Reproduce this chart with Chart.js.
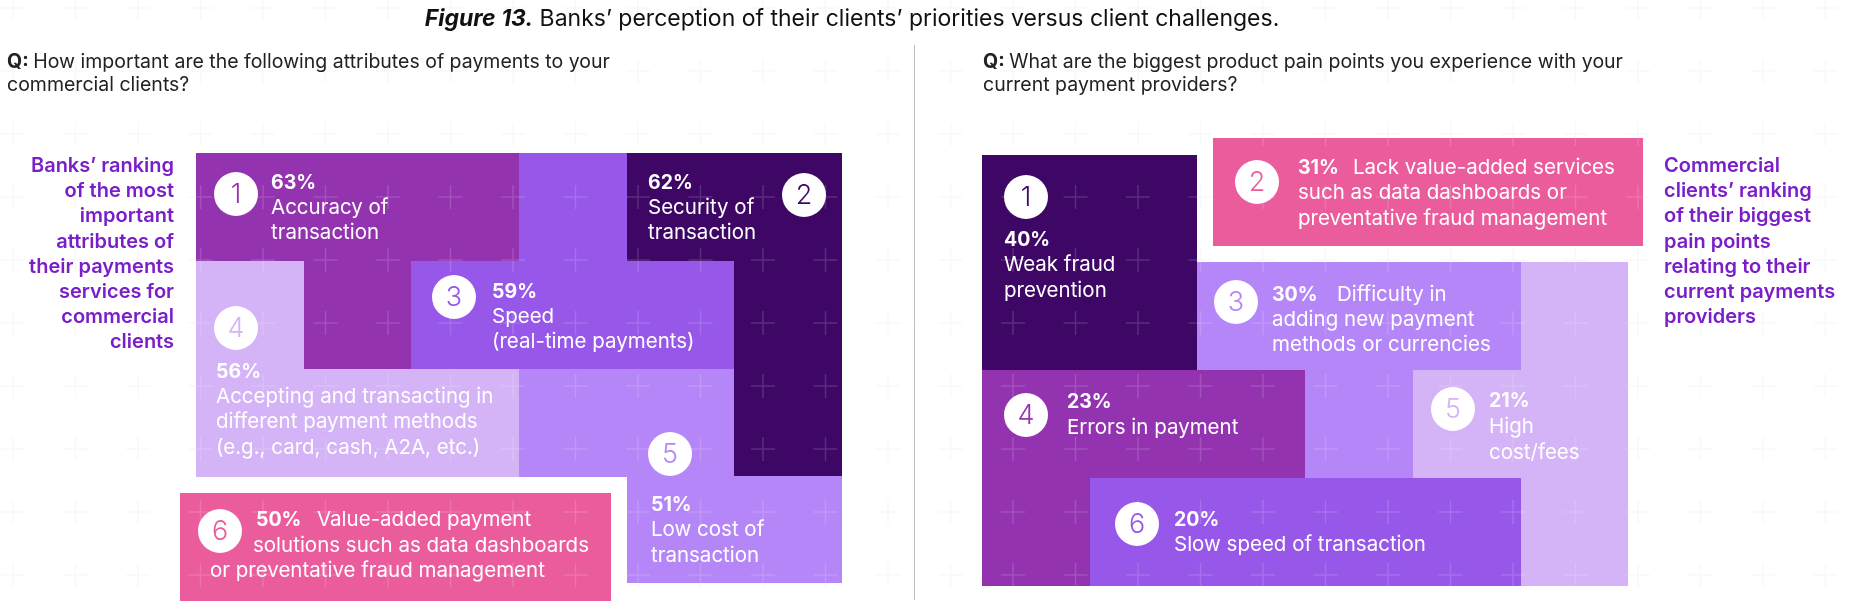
<!DOCTYPE html>
<html>
<head>
<meta charset="utf-8">
<script src="https://cdn.jsdelivr.net/npm/chart.js@4.4.1/dist/chart.umd.min.js"></script>
<style>
  html, body { margin: 0; padding: 0; background: #fff; }
  #wrap { width: 1858px; height: 607px; }
</style>
</head>
<body>
<div id="wrap"><canvas id="chart" width="1858" height="607"></canvas></div>
<script>
// ---- data ----
const bankRanks = [1, 2, 3, 4, 5, 6];
const bankValues = [63, 62, 59, 56, 51, 50];
const bankLabels = [
  ['Accuracy of', 'transaction'],
  ['Security of', 'transaction'],
  ['Speed', '(real-time payments)'],
  ['Accepting and transacting in', 'different payment methods', '(e.g., card, cash, A2A, etc.)'],
  ['Low cost of', 'transaction'],
  ['Value-added payment', 'solutions such as data dashboards', 'or preventative fraud management']
];
const clientRanks = [1, 2, 3, 4, 5, 6];
const clientValues = [40, 31, 30, 23, 21, 20];
const clientLabels = [
  ['Weak fraud', 'prevention'],
  ['Lack value-added services', 'such as data dashboards or', 'preventative fraud management'],
  ['Difficulty in', 'adding new payment', 'methods or currencies'],
  ['Errors in payment'],
  ['High', 'cost/fees'],
  ['Slow speed of transaction']
];
const titleBold = 'Figure 13.';
const titleText = ' Banks’ perception of their clients’ priorities versus client challenges.';
const leftQuestion = ['How important are the following attributes of payments to your', 'commercial clients?'];
const rightQuestion = ['What are the biggest product pain points you experience with your', 'current payment providers?'];
const leftSide = ['Banks’ ranking', 'of the most', 'important', 'attributes of', 'their payments', 'services for', 'commercial', 'clients'];
const rightSide = ['Commercial', 'clients’ ranking', 'of their biggest', 'pain points', 'relating to their', 'current payments', 'providers'];

// ---- layout / styling (positions in the 1858x607 frame) ----
const C = {
  purple: '#9333B0', dark: '#3E0766', violet: '#9757E8',
  lav: '#B586F7', light: '#D4B3F6', pink: '#EB5C9D', side: '#7A1FC8'
};
const F = 'Inter, "Noto Sans", sans-serif';

const bankLayout = [
  { color: C.purple, rects: [[196,153,519,261],[304,261,411,369]], badge: [236,194], pct: [271,189], lines: [[271,214],[271,239]] },
  { color: C.dark,   rects: [[627,153,842,261],[734,261,842,476]], badge: [804,195], pct: [648,189], lines: [[648,214],[648,239]] },
  { color: C.violet, rects: [[519,153,627,261],[411,261,734,369]], badge: [454,297], pct: [492,298], lines: [[492,323],[492,348]] },
  { color: C.light,  rects: [[196,261,304,369],[196,369,519,477]], badge: [236,328], pct: [216,378], lines: [[216,403],[216,428],[216,454]] },
  { color: C.lav,    rects: [[519,369,734,477],[627,476,842,583]], badge: [670,454], pct: [651,511], lines: [[651,536],[651,562]] },
  { color: C.pink,   rects: [[180,493,611,601]], badge: [220,531], pct: [256,526], lines: [[317,526],[253,552],[210,577]] }
];
const clientLayout = [
  { color: C.dark,   rects: [[982,155,1197,370]], badge: [1026,197], pct: [1004,246], lines: [[1004,271],[1004,297]] },
  { color: C.pink,   rects: [[1213,138,1643,246]], badge: [1257,182], pct: [1298,174], lines: [[1353,174],[1298,199],[1298,225]] },
  { color: C.lav,    rects: [[1197,262,1521,370],[1305,370,1413,478]], badge: [1236,302], pct: [1272,301], lines: [[1337,301],[1272,326],[1272,351]] },
  { color: C.purple, rects: [[982,370,1305,478],[982,478,1090,586]], badge: [1026,415], pct: [1067,408], lines: [[1067,434]] },
  { color: C.light,  rects: [[1521,262,1628,370],[1413,370,1628,478],[1521,478,1628,586]], badge: [1453,409], pct: [1489,407], lines: [[1489,433],[1489,459]] },
  { color: C.violet, rects: [[1090,478,1521,586]], badge: [1137,524], pct: [1174,526], lines: [[1174,551]] }
];

const tiles = [];
bankValues.forEach((v, i) => tiles.push({ rank: bankRanks[i], value: v, label: bankLabels[i], ...bankLayout[i] }));
clientValues.forEach((v, i) => tiles.push({ rank: clientRanks[i], value: v, label: clientLabels[i], ...clientLayout[i] }));

function crosses(ctx, sx, sy, color) {
  ctx.save();
  ctx.strokeStyle = color;
  ctx.lineWidth = 1.5;
  ctx.beginPath();
  for (let gx = 13; gx < 1858; gx += 62.5) {
    for (let gy = 8; gy < 607; gy += 63) {
      const px = sx.getPixelForValue(gx), py = sy.getPixelForValue(gy);
      ctx.moveTo(px - 12, py); ctx.lineTo(px + 12, py);
      ctx.moveTo(px, py - 12); ctx.lineTo(px, py + 12);
    }
  }
  ctx.stroke();
  ctx.restore();
}

const mosaic = {
  id: 'mosaic',
  beforeDatasetsDraw(chart) {
    const { ctx, scales: { x, y } } = chart;
    crosses(ctx, x, y, 'rgba(200,196,215,0.13)');
    const path = new Path2D();
    tiles.forEach(t => {
      ctx.fillStyle = t.color;
      t.rects.forEach(r => {
        const x0 = x.getPixelForValue(r[0]), x1 = x.getPixelForValue(r[2]);
        const y0 = y.getPixelForValue(r[1]), y1 = y.getPixelForValue(r[3]);
        ctx.fillRect(x0, y0, x1 - x0, y1 - y0);
        path.rect(x0, y0, x1 - x0, y1 - y0);
      });
    });
    ctx.save();
    ctx.clip(path);
    crosses(ctx, x, y, 'rgba(255,255,255,0.15)');
    ctx.restore();
  },
  afterDatasetsDraw(chart) {
    const { ctx, scales: { x, y } } = chart;
    const X = v => x.getPixelForValue(v), Y = v => y.getPixelForValue(v);
    ctx.save();

    // rank numbers inside the white badges
    ctx.textAlign = 'center';
    ctx.textBaseline = 'middle';
    ctx.font = '300 27px ' + F;
    tiles.forEach(t => {
      ctx.fillStyle = t.color;
      ctx.fillText(String(t.rank), X(t.badge[0]), Y(t.badge[1]) + 1);
    });

    // percent + label lines
    ctx.textAlign = 'left';
    ctx.textBaseline = 'alphabetic';
    ctx.fillStyle = '#fff';
    tiles.forEach(t => {
      ctx.font = '700 19.5px ' + F;
      ctx.fillText(t.value + '%', X(t.pct[0]), Y(t.pct[1]));
      ctx.font = '400 20.5px ' + F;
      t.label.forEach((s, k) => ctx.fillText(s, X(t.lines[k][0]), Y(t.lines[k][1])));
    });

    // title
    ctx.fillStyle = '#111';
    ctx.font = 'italic 700 23px ' + F;
    const w1 = ctx.measureText(titleBold).width;
    ctx.font = '400 23px ' + F;
    const w2 = ctx.measureText(titleText).width;
    const tx = X(852) - (w1 + w2) / 2;
    ctx.font = 'italic 700 23px ' + F;
    ctx.fillText(titleBold, tx, Y(26));
    ctx.font = '400 23px ' + F;
    ctx.fillText(titleText, tx + w1, Y(26));

    // questions
    [[7, leftQuestion], [983, rightQuestion]].forEach(([qx, lines]) => {
      ctx.fillStyle = '#222';
      ctx.font = '700 19.5px ' + F;
      ctx.fillText('Q:', X(qx), Y(68));
      const qw = ctx.measureText('Q: ').width;
      ctx.font = '400 19.5px ' + F;
      ctx.fillText(lines[0], X(qx) + qw, Y(68));
      ctx.fillText(lines[1], X(qx), Y(91));
    });

    // side captions
    ctx.fillStyle = C.side;
    ctx.font = '600 20px ' + F;
    ctx.textAlign = 'right';
    leftSide.forEach((s, k) => ctx.fillText(s, X(174), Y(172 + k * 25.2)));
    ctx.textAlign = 'left';
    rightSide.forEach((s, k) => ctx.fillText(s, X(1664), Y(172 + k * 25.2)));

    // divider
    ctx.strokeStyle = '#bdbdbd';
    ctx.lineWidth = 1;
    ctx.beginPath();
    ctx.moveTo(X(914) + 0.5, Y(45));
    ctx.lineTo(X(914) + 0.5, Y(600));
    ctx.stroke();
    ctx.restore();
  }
};

new Chart(document.getElementById('chart'), {
  type: 'scatter',
  data: {
    datasets: [{
      data: tiles.map(t => ({ x: t.badge[0], y: t.badge[1] })),
      pointRadius: 22,
      pointHoverRadius: 22,
      pointBackgroundColor: '#fff',
      pointBorderWidth: 0
    }]
  },
  options: {
    responsive: false,
    animation: false,
    layout: { padding: 0, autoPadding: false },
    plugins: { legend: { display: false }, tooltip: { enabled: false } },
    scales: {
      x: { type: 'linear', min: 0, max: 1858, display: false },
      y: { type: 'linear', min: 0, max: 607, reverse: true, display: false }
    }
  },
  plugins: [mosaic]
});
</script>
</body>
</html>
